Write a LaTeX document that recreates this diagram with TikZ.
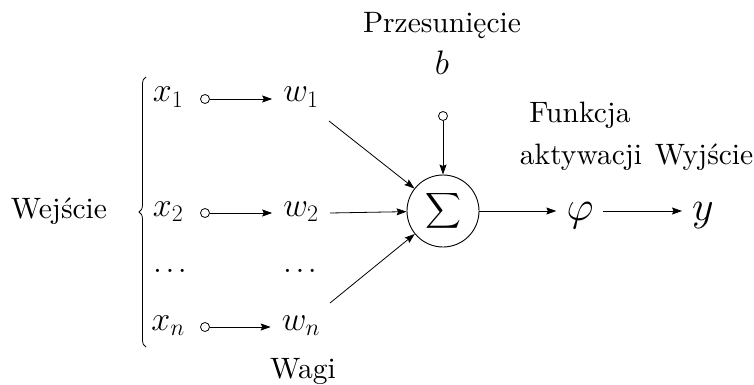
\RequirePackage{fix-cm}
\documentclass[tikz,border=0pt]{standalone}
\usepackage{exscale}
\usepackage{fontspec}
\setmainfont{lmroman10-regular.otf}[ItalicFont=lmroman10-italic.otf]
\usetikzlibrary{arrows.meta,decorations.pathreplacing}
\newcommand{\tdots}{.\hspace{4pt}.\hspace{4pt}.}
\begin{document}
\begin{tikzpicture}[x=1pt,y=-1pt,
  lbl/.style={font=\fontsize{29.5}{34}\selectfont, inner sep=0pt, anchor=base},
  var/.style={font=\fontsize{34}{38}\selectfont, inner sep=0pt, anchor=base},
  big/.style={font=\fontsize{42}{48}\selectfont, inner sep=0pt, anchor=base},
  dotsl/.style={font=\fontsize{30}{30}\selectfont, inner sep=0pt, anchor=base},
  src/.style={circle, draw, minimum size=9pt, inner sep=0pt, line width=0.8pt},
  conn/.style={line width=0.8pt, -{Stealth[length=10pt,width=7pt,inset=1.5pt]}},
  ]
\useasboundingbox (0,0) rectangle (754,385);

% labels
\node[lbl] (prz) at (442,33) {Przesunięcie};
\node[var] (b) at (442,75) {$b$};
\node[lbl] (fun) at (580,122) {Funkcja};
\node[lbl] (akt) at (581,164) {aktywacji};
\node[lbl] (wyj) at (704,164) {Wyjście};
\node[lbl] (wej) at (59,218) {Wejście};
\node[lbl] (wagi) at (303,378) {Wagi};

% inputs
\node[var] (x1) at (168,102) {$x_1$};
\node[var] (x2) at (168,216) {$x_2$};
\node[var] (xn) at (168,330) {$x_n$};
\node[dotsl] (xd) at (170,272) {\tdots};
\node[var] (w1) at (301,102) {$w_1$};
\node[var] (w2) at (301,216) {$w_2$};
\node[var] (wn) at (301,330) {$w_n$};
\node[dotsl] (wd) at (300,272) {\tdots};

\node[src] (c1) at (205,99) {};
\node[src] (c2) at (205,213) {};
\node[src] (cn) at (205,327) {};
\node[src] (cb) at (443,116) {};

% sum
\node[circle, draw, line width=0.9pt, minimum size=72pt, inner sep=0pt] (sum) at (443,211)
  {\fontsize{27}{27}\selectfont$\displaystyle\sum$};

\node[big] (phi) at (580,220) {$\varphi$};
\node[big] (y) at (703,220) {$y$};

\coordinate (s1) at (329,121);
\coordinate (s2) at (330,213);
\coordinate (sn) at (330,303);

% connectors
\draw[conn, shorten >=11pt] (c1) -- (c1 -| w1.west);
\draw[conn, shorten >=11pt] (c2) -- (c2 -| w2.west);
\draw[conn, shorten >=11pt] (cn) -- (cn -| wn.west);
\draw[conn] (s1) -- (sum);
\draw[conn] (s2) -- (sum);
\draw[conn] (sn) -- (sum);
\draw[conn] (cb) -- (sum);
\draw[conn, shorten >=10pt] (sum) -- (sum -| phi.west);
\draw[conn, shorten <=9pt, shorten >=10pt] (sum -| phi.east) -- (sum -| y.west);

% brace
\draw[decorate, decoration={brace, amplitude=7pt}, line width=0.8pt] (146,347) -- (146,77);
\end{tikzpicture}
\end{document}
